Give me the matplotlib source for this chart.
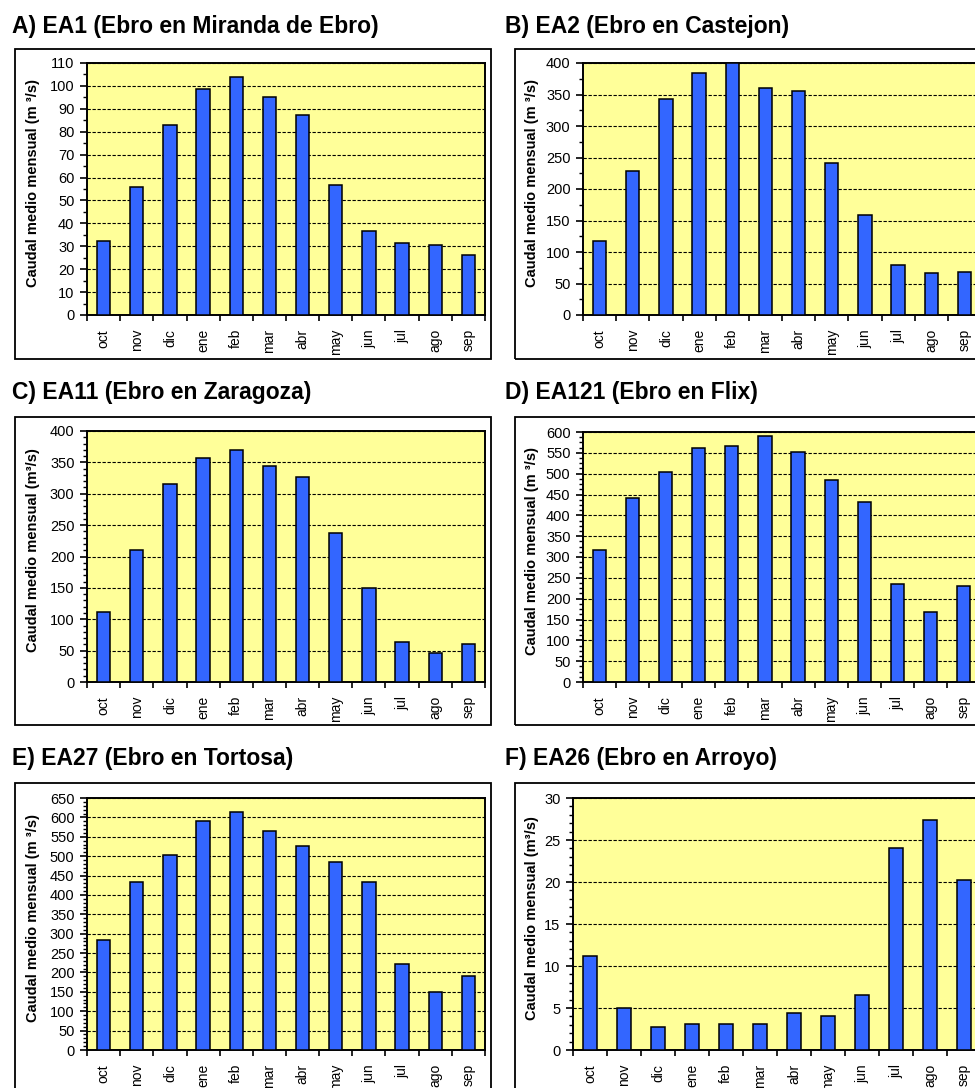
import numpy as np
import matplotlib.pyplot as plt
from matplotlib.patches import Rectangle
from matplotlib.ticker import MultipleLocator

plt.rcParams['font.family'] = ['Liberation Sans', 'DejaVu Sans']

meses = ['oct', 'nov', 'dic', 'ene', 'feb', 'mar', 'abr', 'may', 'jun', 'jul', 'ago', 'sep']

ea1 = [32.3, 55.8, 82.9, 98.8, 103.9, 95.1, 87.3, 56.7, 36.7, 31.3, 30.4, 26.1]
ea2 = [117, 228, 343, 384, 400, 361, 355, 241, 158, 79, 66, 69]
ea11 = [111, 210, 316, 357, 370, 345, 326, 237, 150, 63, 47, 60]
ea121 = [316, 441, 503, 561, 566, 590, 553, 485, 432, 235, 167, 231]
ea27 = [284, 434, 502, 590, 614, 564, 527, 486, 434, 222, 150, 191]
ea26 = [11.2, 5.05, 2.7, 3.15, 3.15, 3.15, 4.35, 4.1, 6.5, 24.0, 27.35, 20.2]

titulos = ['A) EA1 (Ebro en Miranda de Ebro)', 'B) EA2 (Ebro en Castejon)',
           'C) EA11 (Ebro en Zaragoza)', 'D) EA121 (Ebro en Flix)',
           'E) EA27 (Ebro en Tortosa)', 'F) EA26 (Ebro en Arroyo)']
series = [ea1, ea2, ea11, ea121, ea27, ea26]
ymax = [110, 400, 400, 600, 650, 30]
ystep = [10, 50, 50, 50, 50, 5]
yminor = [5, 25, 10, 12.5, 10, 1]
ylabels = ['Caudal medio mensual (m \u00b3/s)', 'Caudal medio mensual (m \u00b3/s)',
           'Caudal medio mensual (m\u00b3/s)', 'Caudal medio mensual (m \u00b3/s)',
           'Caudal medio mensual (m \u00b3/s)', 'Caudal medio mensual (m\u00b3/s)']

# pixel layout: axes box (x0, y0, x1, y1), outer frame, title pos, ylabel right edge x
W, H = 975, 1088
ax_px = [(87, 63, 485, 315), (583, 63, 981, 315),
         (87, 431, 485, 682), (583, 432, 980, 682),
         (87, 798, 485, 1050), (573, 798, 981, 1050)]
frame_px = [(15, 49, 491, 359), (515, 49, 1010, 359),
            (15, 417, 491, 725), (515, 417, 1010, 725),
            (15, 783, 491, 1110), (515, 783, 1010, 1110)]
title_px = [(12, 33), (505, 33), (12, 399), (505, 399), (12, 765), (505, 765)]
ylab_x = [40, 539, 40, 539, 40, 539]

fig = plt.figure(figsize=(W / 100, H / 100), dpi=100)


def frac(x0, y0, x1, y1):
    return [x0 / W, 1 - y1 / H, (x1 - x0) / W, (y1 - y0) / H]


for i in range(6):
    fx = frac(*frame_px[i])
    fig.patches.append(Rectangle((fx[0], fx[1]), fx[2], fx[3], transform=fig.transFigure,
                                 fill=False, edgecolor='black', linewidth=1.3, zorder=0))
    fig.text(title_px[i][0] / W, 1 - title_px[i][1] / H, titulos[i], fontsize=16.5,
             fontweight='bold', va='baseline', ha='left')

    ax = fig.add_axes(frac(*ax_px[i]))
    ax.set_facecolor('#FFFF99')
    x = np.arange(len(meses))
    ax.bar(x, series[i], width=0.4, color='#3366FF', edgecolor='black', linewidth=1.1, zorder=3)
    ax.set_xlim(-0.5, 11.5)
    ax.set_ylim(0, ymax[i])
    ax.yaxis.set_major_locator(MultipleLocator(ystep[i]))
    ax.yaxis.set_minor_locator(MultipleLocator(yminor[i]))
    ax.grid(axis='y', which='major', color='black', linestyle=(0, (3, 1.5)), linewidth=0.8, zorder=1)
    ax.set_axisbelow(True)

    ax.set_xticks(np.arange(-0.5, 12, 1))
    ax.set_xticklabels([])
    ax.set_xticks(x, minor=True)
    ax.set_xticklabels(meses, minor=True, rotation=90, fontsize=10)
    ax.tick_params(axis='x', which='major', direction='out', length=4, width=1.2)
    ax.tick_params(axis='x', which='minor', length=0, pad=10)
    ax.tick_params(axis='y', which='major', direction='out', length=5, width=1.2, labelsize=10.5, pad=4)
    ax.tick_params(axis='y', which='minor', direction='out', length=3, width=1.0)
    for s in ax.spines.values():
        s.set_linewidth(1.4)
    ax.set_ylabel(ylabels[i], fontsize=10.5, fontweight='bold')
    x0, y0, x1, y1 = ax_px[i]
    ax.yaxis.set_label_coords((ylab_x[i] - x0) / (x1 - x0), 0.525)

fig.savefig('out.png', dpi=100)
